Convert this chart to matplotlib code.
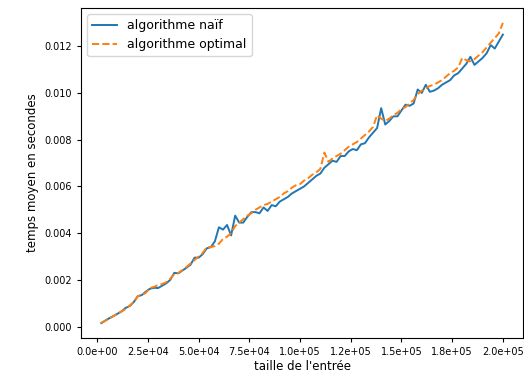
import numpy as np
import matplotlib.pyplot as plt
from matplotlib.ticker import StrMethodFormatter

# taille de l'entrée (de 2000 à 200000, pas de 2000)
tailles = np.arange(2000, 200001, 2000)

# temps moyens en millisecondes
naif_ms = [
    0.15, 0.26, 0.36, 0.45, 0.55, 0.65, 0.80, 0.88, 1.05, 1.30,
    1.35, 1.50, 1.62, 1.66, 1.65, 1.75, 1.85, 2.00, 2.30, 2.28,
    2.40, 2.52, 2.65, 2.95, 2.95, 3.10, 3.35, 3.40, 3.65, 4.25,
    4.15, 4.35, 3.90, 4.75, 4.45, 4.45, 4.70, 4.90, 4.90, 4.85,
    5.10, 4.95, 5.20, 5.15, 5.35, 5.45, 5.55, 5.70, 5.80, 5.90,
    6.00, 6.15, 6.30, 6.45, 6.55, 6.80, 6.95, 7.10, 7.05, 7.30,
    7.30, 7.50, 7.60, 7.55, 7.80, 7.85, 8.10, 8.30, 8.50, 9.35,
    8.65, 8.80, 9.00, 9.00, 9.25, 9.50, 9.45, 9.55, 10.15, 10.00,
    10.35, 10.05, 10.10, 10.20, 10.35, 10.45, 10.55, 10.75, 10.85, 11.05,
    11.25, 11.55, 11.20, 11.35, 11.50, 11.70, 12.05, 11.90, 12.20, 12.50,
]

optimal_ms = [
    0.15, 0.25, 0.35, 0.45, 0.55, 0.65, 0.75, 0.90, 1.05, 1.30,
    1.35, 1.45, 1.65, 1.70, 1.78, 1.82, 1.90, 2.05, 2.25, 2.30,
    2.42, 2.55, 2.70, 2.85, 3.00, 3.15, 3.40, 3.40, 3.45, 3.55,
    3.75, 3.85, 4.00, 4.30, 4.45, 4.60, 4.75, 4.85, 5.00, 5.10,
    5.20, 5.25, 5.35, 5.45, 5.55, 5.70, 5.80, 5.95, 6.05, 6.10,
    6.25, 6.35, 6.50, 6.60, 6.75, 7.45, 7.05, 7.20, 7.30, 7.40,
    7.55, 7.70, 7.80, 7.90, 8.05, 8.20, 8.35, 8.55, 9.05, 8.90,
    8.80, 8.90, 9.05, 9.15, 9.30, 9.40, 9.55, 9.70, 9.95, 10.10,
    10.20, 10.30, 10.35, 10.45, 10.55, 10.70, 10.85, 10.95, 11.10, 11.50,
    11.40, 11.35, 11.45, 11.60, 11.75, 11.95, 12.15, 12.35, 12.55, 13.00,
]

naif = np.array(naif_ms) / 1000
optimal = np.array(optimal_ms) / 1000

fig = plt.figure(figsize=(5.24, 3.74), dpi=100)
ax = fig.add_axes([0.155, 0.096, 0.843, 0.883])

ax.plot(tailles, naif, color='#1f77b4', linewidth=1.4, label="algorithme naïf")
ax.plot(tailles, optimal, color='#ff7f0e', linewidth=1.4, linestyle='--',
        label="algorithme optimal")

ax.set_xticks(np.arange(0, 200001, 25000))
ax.xaxis.set_major_formatter(StrMethodFormatter('{x:.1e}'))
ax.tick_params(labelsize=7, length=3)

ax.set_xlabel("taille de l'entrée", fontsize=8.5, labelpad=2)
ax.set_ylabel("temps moyen en secondes", fontsize=8.5)
ax.legend(loc='upper left', fontsize=9)

fig.savefig("out.png", dpi=100)
